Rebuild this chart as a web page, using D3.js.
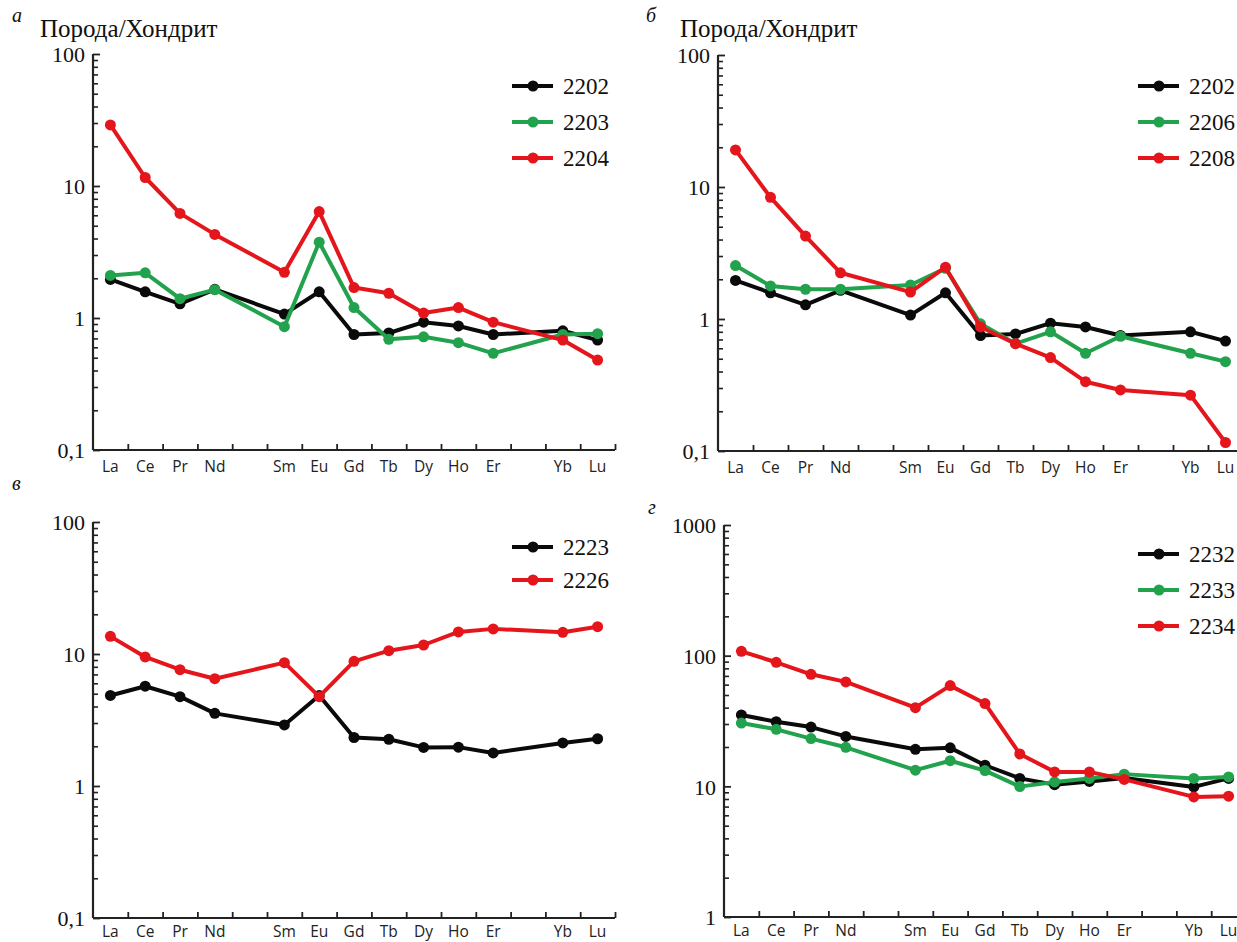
<!DOCTYPE html>
<html>
<head>
<meta charset="utf-8">
<script src="https://cdn.jsdelivr.net/npm/d3@7/dist/d3.min.js"></script>
<style>
  html, body { margin: 0; padding: 0; background: #fff; }
  svg { display: block; }
  .serif { font-family: "Liberation Serif", "Times New Roman", serif; fill: #111; }
  .xl { font-family: "Open Sans", "Noto Sans", sans-serif; font-size: 15.5px; fill: #222; }
</style>
</head>
<body>
<svg id="chart" width="1237" height="942"></svg>
<script>
// Rare-earth element slots along the x axis (Pm and Tm are left empty)
const slots = ["La","Ce","Pr","Nd","Pm","Sm","Eu","Gd","Tb","Dy","Ho","Er","Tm","Yb","Lu"];
const elements = ["La","Ce","Pr","Nd","Sm","Eu","Gd","Tb","Dy","Ho","Er","Yb","Lu"];

// Chondrite-normalised REE values, one array per sample
const s2202 = [1.96, 1.58, 1.28, 1.65, 1.07, 1.58, 0.75, 0.77, 0.93, 0.87, 0.75, 0.80, 0.68];
const s2203 = [2.10, 2.20, 1.40, 1.64, 0.86, 3.75, 1.20, 0.69, 0.72, 0.65, 0.54, 0.75, 0.76];
const s2204 = [29.0, 11.6, 6.2, 4.3, 2.22, 6.4, 1.70, 1.54, 1.09, 1.20, 0.93, 0.68, 0.48];
const s2206 = [2.54, 1.78, 1.68, 1.68, 1.81, 2.42, 0.92, 0.65, 0.80, 0.55, 0.74, 0.55, 0.475];
const s2208 = [19.1, 8.35, 4.25, 2.24, 1.60, 2.47, 0.87, 0.65, 0.51, 0.335, 0.29, 0.265, 0.116];
const s2223 = [4.85, 5.7, 4.75, 3.55, 2.90, 4.85, 2.33, 2.26, 1.96, 1.97, 1.78, 2.12, 2.28];
const s2226 = [13.6, 9.5, 7.6, 6.5, 8.6, 4.75, 8.8, 10.6, 11.7, 14.7, 15.5, 14.6, 16.1];
const s2232 = [35.2, 31.2, 28.4, 24.1, 19.2, 19.7, 14.5, 11.5, 10.3, 10.9, 11.6, 9.9, 11.5];
const s2233 = [30.5, 27.3, 23.2, 19.9, 13.3, 15.7, 13.2, 9.95, 10.8, 11.5, 12.4, 11.5, 11.8];
const s2234 = [108, 89, 72, 63, 40, 59, 43, 17.7, 12.9, 12.9, 11.3, 8.3, 8.4];

// Axis tick labels
const ticksA = [0.1, 1, 10, 100];
const ticksD = [1, 10, 100, 1000];
const titleText = "Порода/Хондрит";

const colors = { black: "#0a0a0a", green: "#22a24c", red: "#e4161c" };

const panels = [
  { letter: "а", lx: 12, ly: 22, title: true, tx: 40, ty: 37,
    xr: [93, 615], yr: [450, 54], dom: [0.1, 100], ticks: ticksA, lab: 22,
    series: [{name: "2202", v: s2202, c: colors.black}, {name: "2203", v: s2203, c: colors.green}, {name: "2204", v: s2204, c: colors.red}],
    leg: { x: 512, y: 86, dy: 36 } },
  { letter: "б", lx: 646, ly: 22, title: true, tx: 680, ty: 37,
    xr: [718, 1243], yr: [451, 55], dom: [0.1, 100], ticks: ticksA, lab: 22,
    series: [{name: "2202", v: s2202, c: colors.black}, {name: "2206", v: s2206, c: colors.green}, {name: "2208", v: s2208, c: colors.red}],
    leg: { x: 1138, y: 86, dy: 36 } },
  { letter: "в", lx: 12, ly: 490, title: false,
    xr: [93, 615], yr: [918, 522], dom: [0.1, 100], ticks: ticksA, lab: 19,
    series: [{name: "2223", v: s2223, c: colors.black}, {name: "2226", v: s2226, c: colors.red}],
    leg: { x: 512, y: 547, dy: 33 } },
  { letter: "г", lx: 648, ly: 514, title: false,
    xr: [724, 1246], yr: [917, 525], dom: [1, 1000], ticks: ticksD, lab: 19,
    series: [{name: "2232", v: s2232, c: colors.black}, {name: "2233", v: s2233, c: colors.green}, {name: "2234", v: s2234, c: colors.red}],
    leg: { x: 1138, y: 554, dy: 36 } }
];

const svg = d3.select("#chart");
const fmt = v => v < 1 ? String(v).replace(".", ",") : String(v);

panels.forEach(p => {
  const g = svg.append("g");
  const x = d3.scaleBand().domain(slots).range(p.xr).paddingInner(0).paddingOuter(0);
  const xb = d3.scaleLinear().domain([0, slots.length]).range(p.xr);
  const y = d3.scaleLog().domain(p.dom).range(p.yr);

  // panel letter and title
  g.append("text").attr("class", "serif").attr("x", p.lx).attr("y", p.ly)
    .attr("font-size", 20).attr("font-style", "italic").text(p.letter);
  if (p.title) {
    g.append("text").attr("class", "serif").attr("x", p.tx).attr("y", p.ty)
      .attr("font-size", 25).text(titleText);
  }

  // y axis: minor ticks
  const minors = [];
  for (let d = p.dom[0]; d < p.dom[1] * 0.999; d *= 10) {
    for (let k = 2; k <= 9; k++) minors.push(+(d * k).toPrecision(3));
  }
  const yMinor = g.append("g").attr("transform", `translate(${p.xr[0]},0)`)
    .call(d3.axisLeft(y).tickValues(minors).tickSize(-5).tickFormat(""));
  yMinor.select(".domain").remove();
  yMinor.selectAll("line").attr("stroke", "#222").attr("stroke-width", 1.6);

  const yMajor = g.append("g").attr("transform", `translate(${p.xr[0]},0)`)
    .call(d3.axisLeft(y).tickValues(p.ticks).tickSize(-7).tickPadding(8).tickFormat(fmt));
  yMajor.select(".domain").attr("stroke", "#222").attr("stroke-width", 2.2)
    .attr("d", `M0,${p.yr[1]}V${p.yr[0]}`);
  yMajor.selectAll("line").attr("stroke", "#222").attr("stroke-width", 1.8);
  yMajor.selectAll("text").attr("class", "serif").attr("font-size", 22)
    .attr("font-family", null).attr("dy", "0.35em");

  // x axis: ticks on slot boundaries, labels at slot centres
  const xAx = g.append("g").attr("transform", `translate(0,${p.yr[0]})`)
    .call(d3.axisBottom(xb).tickValues(d3.range(1, slots.length + 1)).tickSize(-6).tickFormat(""));
  xAx.select(".domain").attr("stroke", "#222").attr("stroke-width", 2.2)
    .attr("d", `M${p.xr[0]},0H${p.xr[1]}`);
  xAx.selectAll("line").attr("stroke", "#222").attr("stroke-width", 1.8);

  g.selectAll("text.xl").data(elements).join("text").attr("class", "xl")
    .attr("x", d => x(d) + x.bandwidth() / 2).attr("y", p.yr[0] + p.lab)
    .attr("text-anchor", "middle").text(d => d);

  // series lines and markers
  const line = d3.line().x((d, i) => x(elements[i]) + x.bandwidth() / 2).y(d => y(d));
  p.series.forEach(s => {
    g.append("path").datum(s.v).attr("d", line).attr("fill", "none")
      .attr("stroke", s.c).attr("stroke-width", 4).attr("stroke-linejoin", "round");
    g.selectAll(null).data(s.v).join("circle")
      .attr("cx", (d, i) => x(elements[i]) + x.bandwidth() / 2).attr("cy", d => y(d))
      .attr("r", 5.5).attr("fill", s.c);
  });

  // legend
  p.series.forEach((s, i) => {
    const ly = p.leg.y + i * p.leg.dy;
    g.append("line").attr("x1", p.leg.x).attr("x2", p.leg.x + 41).attr("y1", ly).attr("y2", ly)
      .attr("stroke", s.c).attr("stroke-width", 4);
    g.append("circle").attr("cx", p.leg.x + 21).attr("cy", ly).attr("r", 5.5).attr("fill", s.c);
    g.append("text").attr("class", "serif").attr("x", p.leg.x + 51).attr("y", ly + 8)
      .attr("font-size", 23).text(s.name);
  });
});
</script>
</body>
</html>
